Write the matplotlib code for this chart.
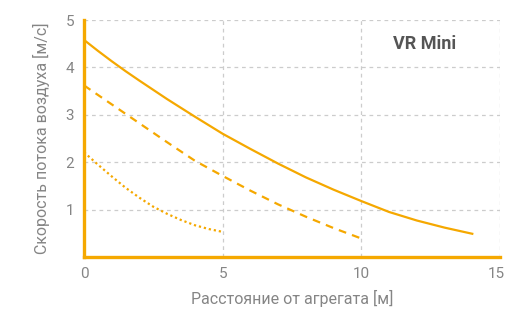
import matplotlib.pyplot as plt
import matplotlib.transforms as mtransforms

# readings
x_solid = [0, 0.5, 1, 1.5, 2, 3, 4, 5, 6, 7, 8, 9, 10, 11, 12, 13, 14]
y_solid = [4.58, 4.35, 4.13, 3.92, 3.72, 3.33, 2.96, 2.60, 2.28, 1.97, 1.68, 1.42, 1.18, 0.95, 0.77, 0.62, 0.49]

x_dash = [0, 1, 2, 3, 4, 5, 6, 7, 8, 9, 10]
y_dash = [3.62, 3.22, 2.82, 2.42, 2.03, 1.71, 1.40, 1.11, 0.85, 0.61, 0.39]

x_dot = [0, 0.5, 1, 1.5, 2, 2.5, 3, 3.5, 4, 4.5, 5]
y_dot = [2.21, 1.95, 1.70, 1.46, 1.25, 1.06, 0.91, 0.78, 0.67, 0.59, 0.53]

xticks = [0, 5, 10, 15]
yticks = [1, 2, 3, 4, 5]

orange = '#F5A800'
grey = '#858585'

plt.rcParams['font.family'] = ['Roboto', 'DejaVu Sans']

fig = plt.figure(figsize=(5.07, 3.16), dpi=100)
ax = fig.add_axes([0.1657, 0.1867, 0.8205, 0.75])

ax.plot(x_solid, y_solid, color=orange, lw=1.6)
ax.plot(x_dash, y_dash, color=orange, lw=1.6, linestyle=(0, (3.5, 2.8)))
ax.plot(x_dot, y_dot, color=orange, lw=1.6, linestyle=(0, (1, 1.3)))

ax.set_xlim(0, 15)
ax.set_ylim(0, 5)
ax.set_xticks(xticks)
ax.set_yticks(yticks)
ax.grid(True, color='#cccccc', linestyle=(0, (3, 3)), lw=0.9)
ax.set_axisbelow(True)

for s in ['top', 'right']:
    ax.spines[s].set_visible(False)
for s in ['left', 'bottom']:
    ax.spines[s].set_color(orange)
    ax.spines[s].set_linewidth(2.4)
    ax.spines[s].set_zorder(5)

ax.tick_params(length=0, labelsize=11, labelcolor=grey, pad=7)

# nudge the last x label so it stays inside the image
last = ax.get_xticklabels()[-1]
last.set_transform(last.get_transform() +
                   mtransforms.ScaledTranslation(-2.5 / 72, 0, fig.dpi_scale_trans))

ax.set_xlabel('Расстояние от агрегата [м]', fontsize=11.5, color=grey, labelpad=7)
ax.set_ylabel('Скорость потока воздуха [м/с]', fontsize=11.5, color=grey, labelpad=11)

ax.text(0.82, 0.9, 'VR Mini', transform=ax.transAxes, fontsize=13, fontweight='bold',
        color='#555555', ha='center', va='center')

plt.savefig('out.png', dpi=100)
